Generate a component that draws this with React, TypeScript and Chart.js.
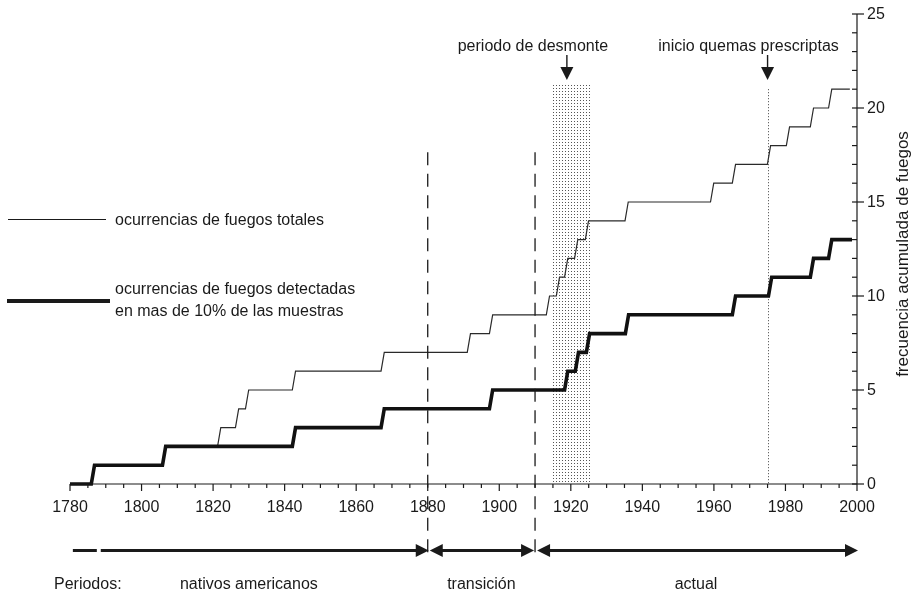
import React, { useEffect, useRef } from 'react';
import { Chart, registerables } from 'chart.js';

Chart.register(...registerables);

const FONT = '"Liberation Sans", Arial, Helvetica, sans-serif';

// ---- data ----
const xTickYears = [1780, 1800, 1820, 1840, 1860, 1880, 1900, 1920, 1940, 1960, 1980, 2000];
const xMinorStep = 5;
const yTickValues = [0, 5, 10, 15, 20, 25];
const yMinorStep = 1;
const startYear = 1780;

// years at which the cumulative count of all fires rises by one
const totalStepYears = [
  1786.4, 1806.3, 1821.7, 1826.7, 1829.5, 1842.6, 1867.4, 1891.5, 1897.7, 1913.6,
  1916.4, 1918.7, 1921.5, 1924.5, 1935.6, 1959.5, 1965.6, 1975.4, 1980.7, 1987.4, 1992.5,
];
const totalEndYear = 1998;

// years at which the cumulative count of fires detected in >10% of samples rises by one
const detectedStepYears = [
  1786.4, 1806.3, 1842.6, 1867.4, 1897.7, 1918.7, 1921.7, 1924.8, 1935.7, 1965.6,
  1975.7, 1987.4, 1992.5,
];
const detectedEndYear = 1998.6;

const periodBounds = [1780, 1880, 1910, 2000];
const periodNames = ['nativos americanos', 'transición', 'actual'];
const clearingYears = [1914.5, 1925.6];
const clearingTop = 21.2;
const burnYear = 1975;
const boundaryTop = 17.65;
const burnLineTop = 21.0;

const legendTotal = 'ocurrencias de fuegos totales';
const legendDetected = ['ocurrencias de fuegos detectadas', 'en mas de 10% de las muestras'];
const yTitle = 'frecuencia acumulada de fuegos';
const noteClearing = 'periodo de desmonte';
const noteBurn = 'inicio quemas prescriptas';
const periodsTitle = 'Periodos:';

const RISE = 0.45;

function buildSteps(stepYears: number[], endYear: number) {
  const pts: { x: number; y: number }[] = [{ x: startYear, y: 0 }];
  stepYears.forEach((t, i) => {
    pts.push({ x: t - RISE, y: i });
    pts.push({ x: t + RISE, y: i + 1 });
  });
  pts.push({ x: endYear, y: stepYears.length });
  return pts;
}

function arrowHead(ctx: CanvasRenderingContext2D, tipX: number, y: number, dir: number) {
  ctx.beginPath();
  ctx.moveTo(tipX, y);
  ctx.lineTo(tipX - dir * 13, y - 6.5);
  ctx.lineTo(tipX - dir * 13, y + 6.5);
  ctx.closePath();
  ctx.fill();
}

const decor = {
  id: 'decor',
  beforeDatasetsDraw(chart: any) {
    const { ctx, scales } = chart;
    const x = scales.x;
    const y = scales.y;
    // dotted clearing period
    const pc = document.createElement('canvas');
    pc.width = 3;
    pc.height = 3;
    const pctx = pc.getContext('2d')!;
    pctx.fillStyle = '#555';
    pctx.fillRect(1, 1, 1, 1);
    const pattern = ctx.createPattern(pc, 'repeat');
    const x0 = Math.round(x.getPixelForValue(clearingYears[0]));
    const x1 = Math.round(x.getPixelForValue(clearingYears[1]));
    const yt = Math.round(y.getPixelForValue(clearingTop));
    const yb = y.getPixelForValue(0);
    ctx.save();
    ctx.fillStyle = pattern;
    ctx.fillRect(x0, yt, x1 - x0, yb - yt);
    // dotted line for prescribed burns
    const bx = Math.round(x.getPixelForValue(burnYear)) + 0.5;
    ctx.strokeStyle = '#444';
    ctx.lineWidth = 1;
    ctx.setLineDash([1, 2]);
    ctx.beginPath();
    ctx.moveTo(bx, y.getPixelForValue(burnLineTop));
    ctx.lineTo(bx, yb);
    ctx.stroke();
    ctx.restore();
  },
  afterDatasetsDraw(chart: any) {
    const { ctx, scales, chartArea } = chart;
    const x = scales.x;
    const y = scales.y;
    const ax = x.getPixelForValue(2000);
    const ay = y.getPixelForValue(0);
    ctx.save();
    ctx.strokeStyle = '#1a1a1a';
    ctx.fillStyle = '#1a1a1a';
    ctx.lineWidth = 1.2;
    // x axis
    ctx.beginPath();
    ctx.moveTo(x.getPixelForValue(1780), ay);
    ctx.lineTo(ax, ay);
    ctx.stroke();
    for (let yr = 1780; yr <= 2000; yr += xMinorStep) {
      const px = x.getPixelForValue(yr);
      const major = xTickYears.includes(yr);
      ctx.beginPath();
      ctx.moveTo(px, ay);
      ctx.lineTo(px, ay + (major ? 7 : 4));
      ctx.stroke();
    }
    ctx.font = `16px ${FONT}`;
    ctx.textAlign = 'center';
    ctx.textBaseline = 'alphabetic';
    xTickYears.forEach((yr) => {
      ctx.fillText(String(yr), x.getPixelForValue(yr), ay + 28);
    });
    // y axis
    ctx.beginPath();
    ctx.moveTo(ax, y.getPixelForValue(25));
    ctx.lineTo(ax, ay);
    ctx.stroke();
    for (let v = 0; v <= 25; v += yMinorStep) {
      const py = y.getPixelForValue(v);
      const major = yTickValues.includes(v);
      ctx.beginPath();
      ctx.moveTo(ax - 5, py);
      ctx.lineTo(ax + (major ? 7 : 0), py);
      ctx.stroke();
    }
    ctx.textAlign = 'left';
    ctx.textBaseline = 'middle';
    yTickValues.forEach((v) => {
      ctx.fillText(String(v), ax + 10, y.getPixelForValue(v) + 1);
    });
    // y title
    ctx.save();
    ctx.translate(ax + 46, (chartArea.top + chartArea.bottom) / 2 + 5);
    ctx.rotate(-Math.PI / 2);
    ctx.textAlign = 'center';
    ctx.font = `17px ${FONT}`;
    ctx.fillText(yTitle, 0, 0);
    ctx.restore();

    // period boundaries (dashed)
    ctx.save();
    ctx.setLineDash([13, 8.5]);
    ctx.lineWidth = 1.3;
    periodBounds.slice(1, 3).forEach((b) => {
      const px = x.getPixelForValue(b);
      ctx.beginPath();
      ctx.moveTo(px, y.getPixelForValue(boundaryTop));
      ctx.lineTo(px, ay + 71);
      ctx.stroke();
    });
    ctx.restore();

    // period arrows
    const rowY = ay + 66.5;
    ctx.lineWidth = 3;
    const p = (v: number) => x.getPixelForValue(v);
    ctx.beginPath();
    ctx.moveTo(p(1780.8), rowY);
    ctx.lineTo(p(1787.5), rowY);
    ctx.stroke();
    ctx.beginPath();
    ctx.moveTo(p(1788.6), rowY);
    ctx.lineTo(p(periodBounds[1]) - 10, rowY);
    ctx.stroke();
    arrowHead(ctx, p(periodBounds[1]) + 1, rowY, 1);
    for (let i = 1; i < periodBounds.length - 1; i++) {
      const left = p(periodBounds[i]) + 2;
      const right = p(periodBounds[i + 1]) + (i + 1 === periodBounds.length - 1 ? 1 : -1);
      arrowHead(ctx, left, rowY, -1);
      ctx.beginPath();
      ctx.moveTo(left + 10, rowY);
      ctx.lineTo(right - 10, rowY);
      ctx.stroke();
      arrowHead(ctx, right, rowY, 1);
    }
    // period labels
    ctx.font = `16px ${FONT}`;
    ctx.textBaseline = 'alphabetic';
    ctx.textAlign = 'left';
    ctx.fillText(periodsTitle, chartArea.left - 16, ay + 105);
    ctx.textAlign = 'center';
    periodNames.forEach((n, i) => {
      ctx.fillText(n, p((periodBounds[i] + periodBounds[i + 1]) / 2), ay + 105);
    });

    // annotations with down arrows
    const drawNote = (text: string, arrowYear: number, textOffset: number) => {
      const axp = p(arrowYear);
      ctx.font = `16px ${FONT}`;
      ctx.textAlign = 'center';
      ctx.textBaseline = 'alphabetic';
      ctx.fillText(text, axp + textOffset, 51);
      ctx.lineWidth = 1.4;
      ctx.beginPath();
      ctx.moveTo(axp, 55);
      ctx.lineTo(axp, 68);
      ctx.stroke();
      ctx.beginPath();
      ctx.moveTo(axp, 80);
      ctx.lineTo(axp - 6.5, 67);
      ctx.lineTo(axp + 6.5, 67);
      ctx.closePath();
      ctx.fill();
    };
    drawNote(noteClearing, 1918.9, -34);
    drawNote(noteBurn, burnYear, -19);

    // legend
    ctx.lineWidth = 1.2;
    ctx.beginPath();
    ctx.moveTo(8, 219.5);
    ctx.lineTo(106, 219.5);
    ctx.stroke();
    ctx.lineWidth = 4;
    ctx.beginPath();
    ctx.moveTo(7, 301);
    ctx.lineTo(110, 301);
    ctx.stroke();
    ctx.font = `16px ${FONT}`;
    ctx.textAlign = 'left';
    ctx.textBaseline = 'alphabetic';
    ctx.fillText(legendTotal, 115, 225);
    ctx.fillText(legendDetected[0], 115, 294);
    ctx.fillText(legendDetected[1], 115, 316);
    ctx.restore();
  },
};

export default function App() {
  const ref = useRef<HTMLCanvasElement | null>(null);
  useEffect(() => {
    if (!ref.current) return;
    const chart = new Chart(ref.current, {
      type: 'line',
      data: {
        datasets: [
          {
            label: 'detectadas',
            data: buildSteps(detectedStepYears, detectedEndYear),
            borderColor: '#111',
            borderWidth: 3.6,
            pointRadius: 0,
            tension: 0,
            order: 0,
            clip: false as any,
            borderCapStyle: 'butt',
            borderJoinStyle: 'miter',
          },
          {
            label: 'totales',
            data: buildSteps(totalStepYears, totalEndYear),
            borderColor: '#2a2a2a',
            borderWidth: 1.2,
            pointRadius: 0,
            tension: 0,
            order: 1,
            clip: false as any,
          },
        ],
      },
      options: {
        responsive: false,
        animation: false,
        events: [],
        layout: { padding: { left: 70, right: 56, top: 14, bottom: 112 } },
        scales: {
          x: { type: 'linear', min: 1780, max: 2000, display: false },
          y: { type: 'linear', min: 0, max: 25, display: false },
        },
        plugins: { legend: { display: false }, tooltip: { enabled: false } },
      },
      plugins: [decor],
    });
    return () => chart.destroy();
  }, []);
  return (
    <div style={{ position: 'fixed', left: 0, top: 0, width: 913, height: 596, background: '#fff' }}>
      <canvas ref={ref} width={913} height={596} style={{ display: 'block' }} />
    </div>
  );
}
